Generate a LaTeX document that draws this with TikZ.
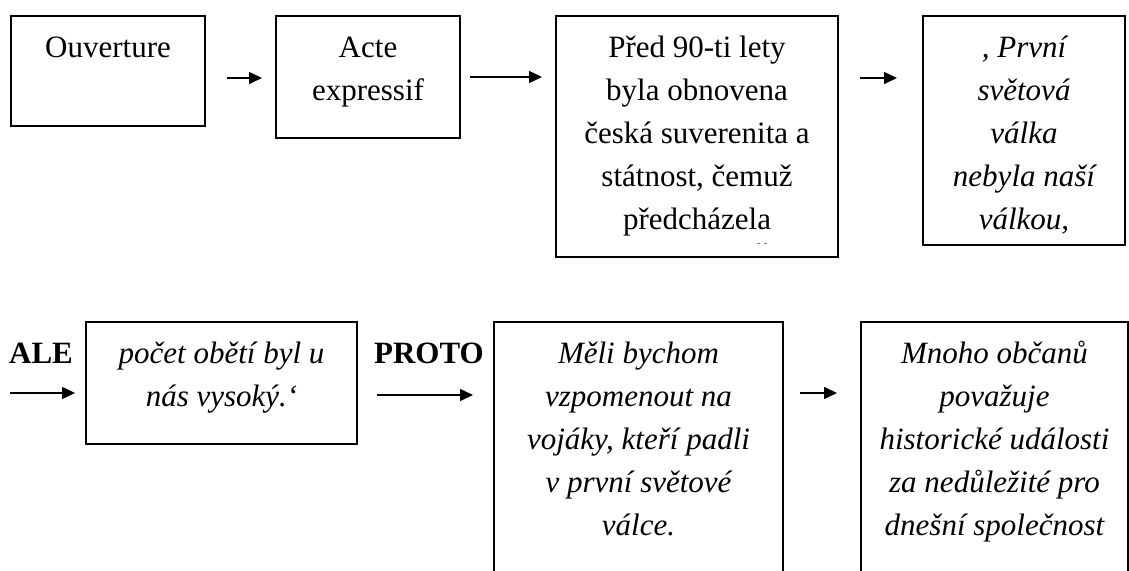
\documentclass[tikz,border=0pt]{standalone}
\usepackage{fontspec}
\setmainfont{Liberation Serif}
\usetikzlibrary{arrows.meta}
\begin{document}
\begin{tikzpicture}[x=1pt,y=-1pt,
  box/.style={draw,line width=1.2pt,inner sep=0pt,outer sep=0pt},
  txt/.style={anchor=north,align=center,inner sep=0pt,font=\fontsize{31}{43}\selectfont},
  arr/.style={line width=1.5pt,-{Triangle[length=13pt,width=12pt]}},
  conn/.style={font=\fontsize{31}{43}\selectfont\bfseries,anchor=base,inner sep=0pt}]
\useasboundingbox (0,0) rectangle (1129,570);
\clip (0,0) rectangle (1129,570);
% boxes
\node[box,minimum width=194pt,minimum height=110pt] (b1) at (108,71) {};
\node[box,minimum width=184pt,minimum height=122pt] (b2) at (368,77) {};
\node[box,minimum width=282pt,minimum height=241pt] (b3) at (697,136.5) {};
\node[box,minimum width=202pt,minimum height=229pt] (b4) at (1024,130.5) {};
\node[box,minimum width=271pt,minimum height=122pt] (b5) at (221.5,383) {};
\node[box,minimum width=289pt,minimum height=298pt] (b6) at (638.5,471) {};
\node[box,minimum width=267pt,minimum height=298pt] (b7) at (994.5,471) {};
% texts
\node[txt] (t1) at (108,27) {\strut Ouverture};
\node[txt] (t2) at (368,27) {\strut Acte\\expressif};
\node[txt] (t3) at (697,27) {\strut Před 90-ti lety\\byla obnovena\\česká suverenita a\\státnost, čemuž\\předcházela};
\node[txt] (t4) at (1024,27) {\strut\itshape , První\\\itshape světová\\\itshape válka\\\itshape nebyla naší\\\itshape válkou,};
\node[txt] (t5) at (221.5,333) {\strut\itshape počet obětí byl u\\\itshape nás vysoký.‘};
\node[txt] (t6) at (638.5,333) {\strut\itshape Měli bychom\\\itshape vzpomenout na\\\itshape vojáky, kteří padli\\\itshape v první světové\\\itshape válce.};
\node[txt] (t7) at (994.5,333) {\strut\itshape Mnoho občanů\\\itshape považuje\\\itshape historické události\\\itshape za nedůležité pro\\\itshape dnešní společnost};
% tiny clipped marks in box 3
\fill[gray] (757,242.5) rectangle (760,244);
\fill[gray] (764,242.5) rectangle (767,244);
% connector words
\node[conn] (ale) at (41,363) {ALE};
\node[conn] (proto) at (429,363) {PROTO};
% arrows
\coordinate (s4) at (10,393);
\draw[arr,shorten <=22pt,shorten >=14pt] (b1.east |- 0,78) -- (b2.west |- 0,78);
\draw[arr,shorten <=10pt,shorten >=14pt] (b2.east |- 0,77) -- (b3.west |- 0,77);
\draw[arr,shorten <=22pt,shorten >=26pt] (b3.east |- 0,78) -- (b4.west |- 0,78);
\draw[arr,shorten >=11pt] (s4) -- (b5.west |- s4);
\draw[arr,shorten <=20pt,shorten >=21pt] (b5.east |- 0,395) -- (b6.west |- 0,395);
\draw[arr,shorten <=17pt,shorten >=24pt] (b6.east |- 0,393) -- (b7.west |- 0,393);
\end{tikzpicture}
\end{document}
